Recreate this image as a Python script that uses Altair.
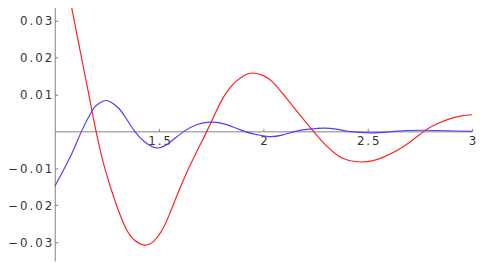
import altair as alt
import pandas as pd

# Red curve
red_x = [1.000, 1.076, 1.163, 1.198, 1.240, 1.296, 1.343, 1.383, 1.430, 1.477, 1.525,
         1.567, 1.642, 1.729, 1.770, 1.808, 1.840, 1.870, 1.910, 1.949, 2.000, 2.043,
         2.090, 2.160, 2.240, 2.300, 2.358, 2.410, 2.468, 2.520, 2.578, 2.672, 2.769,
         2.830, 2.892, 2.950, 3.000]
red_y = [0.0580, 0.0350, 0.0100, 0.0000, -0.0100, -0.0200, -0.0265, -0.0295, -0.0308, -0.0296, -0.0256,
         -0.0200, -0.0100, 0.0000, 0.0050, 0.0092, 0.0118, 0.0136, 0.0152, 0.0158, 0.0151, 0.0134,
         0.0104, 0.0055, 0.0000, -0.0038, -0.0066, -0.0079, -0.0083, -0.0080, -0.0069, -0.0041, 0.0000,
         0.0020, 0.0034, 0.0042, 0.0045]

# Blue curve
blue_x = [1.000, 1.081, 1.128, 1.178, 1.200, 1.238, 1.270, 1.304, 1.340, 1.383, 1.430,
          1.493, 1.556, 1.619, 1.680, 1.744, 1.820, 1.909, 1.970, 2.027, 2.090, 2.153,
          2.220, 2.287, 2.350, 2.405, 2.515, 2.625, 2.767, 3.000]
blue_y = [-0.0149, -0.0061, 0.0000, 0.0055, 0.0071, 0.0083, 0.0079, 0.0064, 0.0037, 0.0000, -0.0028,
          -0.0045, -0.0028, 0.0000, 0.0018, 0.0025, 0.0019, 0.0000, -0.0009, -0.0014, -0.0010, 0.0000,
          0.0006, 0.0009, 0.0006, 0.0000, -0.0004, 0.0000, 0.0003, 0.0000]

x_ticks = [1.5, 2, 2.5, 3]
y_ticks = [-0.03, -0.02, -0.01, 0.01, 0.02, 0.03]

rows = [{"x": a, "y": b, "series": "red"} for a, b in zip(red_x, red_y)]
rows += [{"x": a, "y": b, "series": "blue"} for a, b in zip(blue_x, blue_y)]
df = pd.DataFrame(rows)

SP = "\u2006"
label_expr = f"join(split(datum.label, ''), '{SP}')"

W = 424
H = 263
AXIS_GRAY = "#808080"
LABEL_COLOR = "#333333"
FONT = "DejaVu Sans"
FS = 12

x_axis = alt.Axis(
    orient="top", offset=-131.3, values=x_ticks, format=".1~f", grid=False,
    domainColor=AXIS_GRAY, tickColor=AXIS_GRAY, tickSize=3, domainWidth=1, tickWidth=1,
    labelBaseline="top", labelPadding=-7, labelAlign="center", labelFlush=False,
    labelOverlap=False, labelExpr=label_expr, labelFont=FONT, labelFontSize=FS,
    labelColor=LABEL_COLOR, title=None,
)
y_axis = alt.Axis(
    orient="right", offset=-W, values=y_ticks, format=".2f", grid=False,
    domainColor=AXIS_GRAY, tickColor=AXIS_GRAY, tickSize=3, domainWidth=1, tickWidth=1,
    labelAlign="right", labelBaseline="middle", labelPadding=-6, labelFlush=False,
    labelOverlap=False, labelExpr=label_expr, labelFont=FONT, labelFontSize=FS,
    labelColor=LABEL_COLOR, title=None,
)

chart = alt.Chart(df).mark_line(strokeWidth=1.2, clip=True, interpolate="natural").encode(
    x=alt.X("x:Q", scale=alt.Scale(domain=[1, 3], nice=False, zero=False), axis=x_axis),
    y=alt.Y("y:Q", scale=alt.Scale(domain=[-0.0351, 0.0350], nice=False, zero=False), axis=y_axis),
    color=alt.Color("series:N", scale=alt.Scale(domain=["red", "blue"], range=["#ff2020", "#4a40ff"]), legend=None),
).properties(
    width=W, height=H,
    padding={"left": 47.5, "top": -8, "right": 5, "bottom": 0},
    autosize=alt.AutoSizeParams(type="none"),
).configure_view(stroke=None)

chart.save("out.html", embed_options={"renderer": "svg", "actions": False})
